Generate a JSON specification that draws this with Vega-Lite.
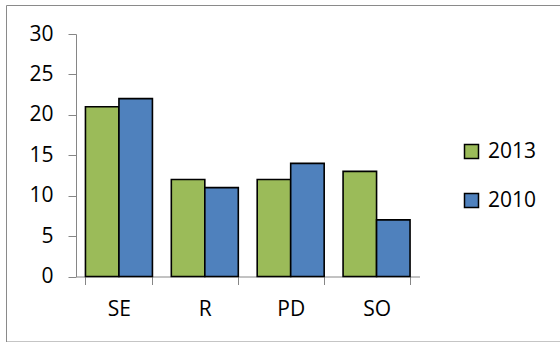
{
  "$schema": "https://vega.github.io/schema/vega-lite/v6.json",
  "width": 570,
  "height": 336.5,
  "autosize": {"type": "none"},
  "padding": {"left": 6, "top": 5, "right": 0, "bottom": 0},
  "background": "white",
  "config": {
    "view": {"stroke": "#8a8a8a", "strokeWidth": 1},
    "font": "Open Sans"
  },
  "data": {
    "values": [
      {"category": "SE", "year": "2013", "value": 21},
      {"category": "SE", "year": "2010", "value": 22},
      {"category": "R", "year": "2013", "value": 12},
      {"category": "R", "year": "2010", "value": 11},
      {"category": "PD", "year": "2013", "value": 12},
      {"category": "PD", "year": "2010", "value": 14},
      {"category": "SO", "year": "2013", "value": 13},
      {"category": "SO", "year": "2010", "value": 7}
    ]
  },
  "mark": {"type": "bar", "stroke": "black", "strokeWidth": 1.6},
  "encoding": {
    "x": {
      "field": "category",
      "type": "nominal",
      "sort": ["SE", "R", "PD", "SO"],
      "scale": {"range": [70, 413.5], "paddingInner": 0.22, "paddingOuter": 0.11},
      "axis": {
        "title": null,
        "offset": -65,
        "labelAngle": 0,
        "labelFontSize": 21,
        "labelColor": "black",
        "labelPadding": 14,
        "domainColor": "#868686",
        "tickColor": "#868686",
        "tickSize": 8,
        "tickBand": "extent"
      }
    },
    "y": {
      "field": "value",
      "type": "quantitative",
      "scale": {"domain": [0, 30], "range": [271.5, 29], "nice": false},
      "axis": {
        "title": null,
        "offset": -70,
        "values": [0, 5, 10, 15, 20, 25, 30],
        "grid": false,
        "labelFontSize": 21,
        "labelColor": "black",
        "labelPadding": 15,
        "domainColor": "#868686",
        "tickColor": "#868686",
        "tickSize": 8
      }
    },
    "xOffset": {"field": "year", "type": "nominal", "sort": ["2013", "2010"]},
    "color": {
      "field": "year",
      "type": "nominal",
      "sort": ["2013", "2010"],
      "scale": {"range": ["#9BBB59", "#4F81BD"]},
      "legend": {
        "title": null,
        "orient": "none",
        "legendX": 455,
        "legendY": 136,
        "padding": 0,
        "symbolType": "square",
        "symbolSize": 196,
        "symbolStrokeColor": "black",
        "symbolStrokeWidth": 1.5,
        "labelFontSize": 21,
        "labelColor": "black",
        "labelOffset": 6,
        "rowPadding": 27
      }
    }
  }
}
